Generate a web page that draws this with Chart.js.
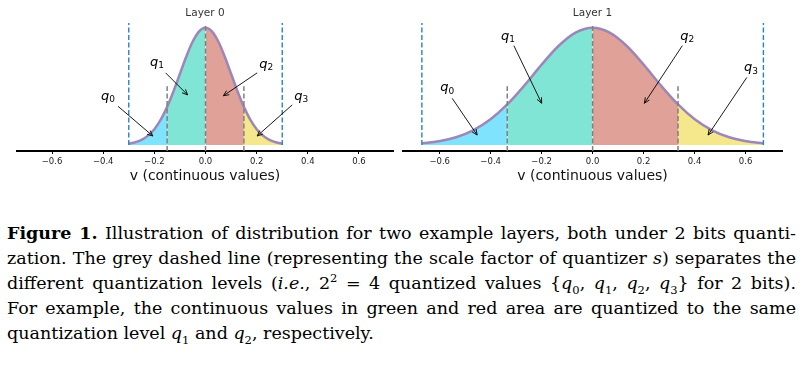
<!DOCTYPE html>
<html>
<head>
<meta charset="utf-8">
<script src="https://cdn.jsdelivr.net/npm/chart.js@4.4.1/dist/chart.umd.min.js"></script>
<style>
  html, body { margin: 0; padding: 0; background: #fff; }
  #page { position: relative; width: 803px; height: 365px; overflow: hidden; }
  .panel { position: absolute; top: 0; height: 190px; }
  #caption {
    position: absolute; left: 7px; top: 221px; width: 789px;
    font-family: "DejaVu Serif", "Liberation Serif", serif; font-size: 17.5px; color: #000;
  }
  #caption .ln { height: 25px; line-height: 25px; text-align: justify; text-align-last: justify; white-space: nowrap; }
  #caption .ln.last { text-align-last: left; }
  #caption sub, #caption sup { font-size: 11.5px; line-height: 0; }
</style>
</head>
<body>
<div id="page">
  <div class="panel" style="left:0;width:400px"><canvas id="layer0" width="400" height="190"></canvas></div>
  <div class="panel" style="left:400px;width:403px"><canvas id="layer1" width="403" height="190"></canvas></div>
  <div id="caption">
    <div class="ln"><b>Figure 1.</b> Illustration of distribution for two example layers, both under 2 bits quanti-</div>
    <div class="ln">zation. The grey dashed line (representing the scale factor of quantizer <i>s</i>) separates the</div>
    <div class="ln">different quantization levels (<i>i.e.</i>, 2<sup>2</sup> = 4 quantized values {<i>q</i><sub>0</sub>, <i>q</i><sub>1</sub>, <i>q</i><sub>2</sub>, <i>q</i><sub>3</sub>} for 2 bits).</div>
    <div class="ln">For example, the continuous values in green and red area are quantized to the same</div>
    <div class="ln last">quantization level <i>q</i><sub>1</sub> and <i>q</i><sub>2</sub>, respectively.</div>
  </div>
</div>
<script>
/* ============================================================
   DATA (peak height = 1)
   ============================================================ */
const tickValues = [-0.6, -0.4, -0.2, 0.0, 0.2, 0.4, 0.6];

// Layer 0
const xs0 = [-0.3, -0.275, -0.25, -0.225, -0.2, -0.175, -0.15, -0.125, -0.1, -0.075, -0.05, -0.025, 0,
             0.025, 0.05, 0.075, 0.1, 0.125, 0.15, 0.175, 0.2, 0.225, 0.25, 0.275, 0.3];
const ys0 = [0.011, 0.023, 0.044, 0.080, 0.135, 0.216, 0.325, 0.458, 0.607, 0.755, 0.882, 0.969, 1.0,
             0.969, 0.882, 0.755, 0.607, 0.458, 0.325, 0.216, 0.135, 0.080, 0.044, 0.023, 0.011];
const levels0 = [-0.3, -0.15, 0, 0.15, 0.3];   // clip range + scale-factor cuts

// Layer 1
const xs1 = [-0.67, -0.603, -0.536, -0.469, -0.402, -0.335, -0.268, -0.201, -0.134, -0.067, 0,
             0.067, 0.134, 0.201, 0.268, 0.335, 0.402, 0.469, 0.536, 0.603, 0.67];
const ys1 = [0.014, 0.032, 0.066, 0.125, 0.217, 0.346, 0.507, 0.683, 0.844, 0.958, 1.0,
             0.958, 0.844, 0.683, 0.507, 0.346, 0.217, 0.125, 0.066, 0.032, 0.014];
const levels1 = [-0.67, -0.335, 0, 0.335, 0.67];

// heights of the grey dashed separators (left, centre, right)
const greyTops = [0.5, 1.02, 0.5];

// q labels: arrow head (hx,hy), arrow tail (tx,ty), label centre (lx,ly)
const qNotes0 = [
  { n: '0', hx: -0.206, hy: 0.077, tx: -0.342, ty: 0.33,  lx: -0.381, ly: 0.41 },
  { n: '1', hx: -0.07,  hy: 0.427, tx: -0.156, ty: 0.615, lx: -0.19,  ly: 0.70 },
  { n: '2', hx: 0.07,   hy: 0.42,  tx: 0.202,  ty: 0.615, lx: 0.237,  ly: 0.684 },
  { n: '3', hx: 0.202,  hy: 0.077, tx: 0.339,  ty: 0.342, lx: 0.374,  ly: 0.41 },
];
const qNotes1 = [
  { n: '0', hx: -0.453, hy: 0.085, tx: -0.551, ty: 0.398, lx: -0.57,  ly: 0.483 },
  { n: '1', hx: -0.2,   hy: 0.356, tx: -0.309, ty: 0.847, lx: -0.332, ly: 0.924 },
  { n: '2', hx: 0.203,  hy: 0.356, tx: 0.352,  ty: 0.847, lx: 0.371,  ly: 0.924 },
  { n: '3', hx: 0.453,  hy: 0.085, tx: 0.605,  ty: 0.576, lx: 0.621,  ly: 0.653 },
];

/* ============================================================
   STYLE
   ============================================================ */
const fillColors = ['#80e3fd', '#80e5d5', '#e0a298', '#f5e88c'];
const curveColor = '#9b87b8';
const clipColor  = '#2a82c6';
const cutColor   = '#808080';
const Y_MIN = -0.051, Y_MAX = 1.04;

/* ============================================================
   ARROWS + q LABELS
   ============================================================ */
const qArrows = {
  id: 'qArrows',
  afterDatasetsDraw(chart, args, opts) {
    const { ctx, scales: { x, y } } = chart;
    ctx.save();
    (opts.items || []).forEach(a => {
      const hx = x.getPixelForValue(a.hx), hy = y.getPixelForValue(a.hy);
      const tx = x.getPixelForValue(a.tx), ty = y.getPixelForValue(a.ty);
      const ang = Math.atan2(hy - ty, hx - tx);
      ctx.strokeStyle = '#000';
      ctx.lineWidth = 0.9;
      ctx.beginPath();
      ctx.moveTo(tx, ty);
      ctx.lineTo(hx, hy);
      ctx.stroke();
      // open arrow head
      const L = 6, w = 0.42;
      ctx.beginPath();
      ctx.moveTo(hx - L * Math.cos(ang - w), hy - L * Math.sin(ang - w));
      ctx.lineTo(hx, hy);
      ctx.lineTo(hx - L * Math.cos(ang + w), hy - L * Math.sin(ang + w));
      ctx.stroke();

      // label  q_n
      const lx = x.getPixelForValue(a.lx), ly = y.getPixelForValue(a.ly);
      ctx.fillStyle = '#000';
      ctx.textBaseline = 'alphabetic';
      ctx.font = 'italic 13px "DejaVu Sans"';
      const qw = ctx.measureText('q').width;
      ctx.font = '9px "DejaVu Sans"';
      const sw = ctx.measureText(a.n).width;
      const left = lx - (qw + sw) / 2;
      ctx.font = 'italic 13px "DejaVu Sans"';
      ctx.fillText('q', left, ly + 3);
      ctx.font = '9px "DejaVu Sans"';
      ctx.fillText(a.n, left + qw, ly + 5.5);
    });
    ctx.restore();
  }
};

/* ============================================================
   CHART BUILDER
   ============================================================ */
function fmtTick(v) {
  return (v < 0 ? '\u2212' : '') + Math.abs(v).toFixed(1);
}

function buildLayer(canvasId, title, xs, ys, levels, notes, xMin, xMax, pad) {
  const pts = xs.map((x, i) => ({ x, y: ys[i] }));
  const datasets = [];

  // blue dashed clip lines
  [levels[0], levels[levels.length - 1]].forEach(v => {
    datasets.push({
      data: [{ x: v, y: 0 }, { x: v, y: Y_MAX }],
      borderColor: clipColor, borderWidth: 1.4, borderDash: [5, 2.5],
      pointRadius: 0, fill: false
    });
  });
  // grey dashed scale-factor cuts
  levels.slice(1, -1).forEach((v, i) => {
    datasets.push({
      data: [{ x: v, y: Y_MIN }, { x: v, y: greyTops[i] }],
      borderColor: cutColor, borderWidth: 1.5, borderDash: [5, 2.5],
      pointRadius: 0, fill: false
    });
  });
  // density curve
  datasets.push({
    data: pts, borderColor: curveColor, borderWidth: 2.5,
    pointRadius: 0, fill: false, cubicInterpolationMode: 'monotone'
  });
  // coloured quantization areas
  for (let k = 0; k < levels.length - 1; k++) {
    const seg = pts.filter(p => p.x >= levels[k] - 1e-9 && p.x <= levels[k + 1] + 1e-9);
    datasets.push({
      data: seg, borderColor: fillColors[k], backgroundColor: fillColors[k], borderWidth: 1,
      pointRadius: 0, fill: 'origin', cubicInterpolationMode: 'monotone'
    });
  }

  return new Chart(document.getElementById(canvasId), {
    type: 'line',
    data: { datasets },
    plugins: [qArrows],
    options: {
      responsive: false, animation: false, events: [],
      layout: { padding: { left: pad.left, right: pad.right, top: 0, bottom: 5 } },
      plugins: {
        legend: { display: false },
        tooltip: { enabled: false },
        title: {
          display: true, text: title, color: '#333',
          font: { family: 'DejaVu Sans', size: 10.5, weight: 'normal' },
          padding: { top: 6.7, bottom: 3.7 }
        },
        qArrows: { items: notes }
      },
      scales: {
        x: {
          type: 'linear', min: xMin, max: xMax,
          afterBuildTicks: axis => { axis.ticks = tickValues.map(v => ({ value: v })); },
          ticks: {
            callback: v => fmtTick(v), autoSkip: false, maxRotation: 0,
            color: '#222', padding: 2.5, font: { family: 'DejaVu Sans', size: 8.5 }
          },
          grid: { display: true, drawOnChartArea: false, drawTicks: true, tickLength: 3, color: '#000', lineWidth: 1 },
          border: { display: true, color: '#000', width: 2 },
          title: {
            display: true, text: 'v (continuous values)', color: '#111',
            font: { family: 'DejaVu Sans', size: 14 }, padding: { top: -1, bottom: 0 }
          }
        },
        y: { display: false, min: Y_MIN, max: Y_MAX }
      }
    }
  });
}

buildLayer('layer0', 'Layer 0', xs0, ys0, levels0, qNotes0, -0.737, 0.733, { left: 17, right: 7 });
buildLayer('layer1', 'Layer 1', xs1, ys1, levels1, qNotes1, -0.744, 0.743, { left: 3, right: 21 });
</script>
</body>
</html>
